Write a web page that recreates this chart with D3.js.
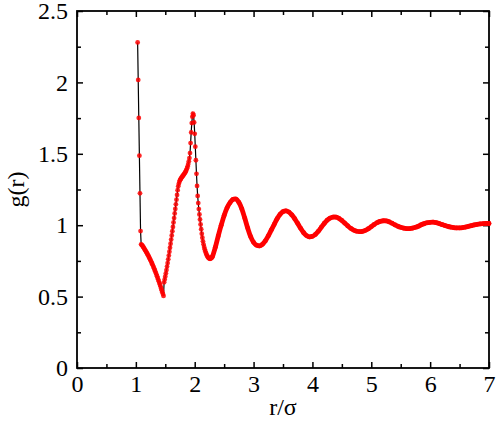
<!DOCTYPE html>
<html>
<head>
<meta charset="utf-8">
<script src="https://cdn.jsdelivr.net/npm/d3@7"></script>
<style>
  html, body { margin: 0; padding: 0; background: #fff; }
  text { font-family: "Liberation Serif", "DejaVu Serif", serif; }
</style>
</head>
<body>
<div id="chart"></div>
<script>
// tick labels
var xTicks = [0, 1, 2, 3, 4, 5, 6, 7];
var yTicks = [0, 0.5, 1, 1.5, 2, 2.5];
var xMinor = [0.5, 1.5, 2.5, 3.5, 4.5, 5.5, 6.5];
var yMinor = [0.25, 0.75, 1.25, 1.75, 2.25];

// g(r) close to contact, sampled every 0.01 from r = 1.03
var nearStart = 1.03, nearStep = 0.01;
var gNear = [
  2.280, 2.017, 1.751, 1.487, 1.223, 0.959, 0.866, 0.862, 0.857, 0.851,
  0.845, 0.838, 0.831, 0.824, 0.817, 0.810, 0.802, 0.795, 0.787, 0.779,
  0.771, 0.763, 0.754, 0.745, 0.736, 0.727, 0.717, 0.707, 0.697, 0.687,
  0.676, 0.665, 0.654, 0.643, 0.631, 0.619, 0.607, 0.595, 0.583, 0.570,
  0.557, 0.544, 0.531, 0.518, 0.505, 0.600, 0.620, 0.641, 0.663, 0.686,
  0.710, 0.735, 0.761, 0.787, 0.814, 0.842, 0.870, 0.899, 0.928, 0.958,
  0.988, 1.019, 1.050, 1.082, 1.114, 1.146, 1.179, 1.212, 1.245, 1.272,
  1.290, 1.305, 1.315, 1.322, 1.329, 1.335, 1.341, 1.347, 1.352, 1.358,
  1.364, 1.371, 1.379, 1.388, 1.399, 1.412, 1.428, 1.447, 1.470, 1.505,
  1.575, 1.650, 1.715, 1.760, 1.782, 1.770, 1.720, 1.640, 1.550, 1.455,
  1.360, 1.275, 1.205, 1.155, 1.113, 1.075, 1.040, 1.005, 0.972, 0.940,
  0.912, 0.887, 0.866, 0.848, 0.832, 0.818, 0.806, 0.795, 0.786, 0.779,
  0.773, 0.769, 0.766, 0.765, 0.766, 0.769, 0.774
];

// the smooth tail, every 0.05 from r = 2.30
var farStart = 2.30, farStep = 0.05;
var gFar = [
  0.780, 0.845, 0.925, 1.000, 1.068, 1.122, 1.158, 1.180, 1.183, 1.160,
  1.115, 1.050, 0.980, 0.920, 0.880, 0.860, 0.855, 0.866, 0.890, 0.925,
  0.965, 1.005, 1.045, 1.076, 1.095, 1.100, 1.092, 1.072, 1.045, 1.012,
  0.978, 0.948, 0.927, 0.918, 0.922, 0.935, 0.957, 0.985, 1.012, 1.035,
  1.050, 1.057, 1.056, 1.048, 1.033, 1.014, 0.995, 0.978, 0.966, 0.958,
  0.955, 0.957, 0.964, 0.975, 0.990, 1.005, 1.018, 1.027, 1.031, 1.030,
  1.024, 1.014, 1.003, 0.993, 0.985, 0.979, 0.976, 0.976, 0.979, 0.985,
  0.993, 1.003, 1.011, 1.017, 1.020, 1.021, 1.018, 1.012, 1.005, 0.998,
  0.992, 0.987, 0.983, 0.981, 0.981, 0.983, 0.987, 0.992, 0.997, 1.002,
  1.006, 1.009, 1.011, 1.012, 1.012
];

var near = gNear.map(function(g, i) { return {r: nearStart + i * nearStep, g: g}; });
var far = gFar.map(function(g, i) { return {r: farStart + i * farStep, g: g}; });
var all = near.concat(far);

var W = 498, H = 426;
var margin = {top: 11, right: 9, bottom: 58, left: 77};
var width = W - margin.left - margin.right,
    height = H - margin.top - margin.bottom;

var svg = d3.select("#chart").append("svg")
    .attr("width", W)
    .attr("height", H)
  .append("g")
    .attr("transform", "translate(" + margin.left + "," + margin.top + ")");

var x = d3.scaleLinear().domain([0, 7]).range([0, width]);
var y = d3.scaleLinear().domain([0, 2.5]).range([height, 0]);

function styleAxis(g) {
    g.select(".domain").remove();
    g.selectAll("line").attr("stroke", "#000").attr("stroke-width", 1.5);
    g.selectAll("text").attr("fill", "#000").style("font-size", "24px")
        .style("font-family", '"Liberation Serif", serif');
}

// major ticks, all pointing inward
svg.append("g").attr("transform", "translate(0," + height + ")")
    .call(d3.axisBottom(x).tickValues(xTicks).tickSizeInner(-6).tickSizeOuter(0)
        .tickPadding(7).tickFormat(function(d) { return String(d); }))
    .call(styleAxis);
svg.append("g")
    .call(d3.axisLeft(y).tickValues(yTicks).tickSizeInner(-6).tickSizeOuter(0)
        .tickPadding(9).tickFormat(function(d) { return String(d); }))
    .call(styleAxis);
svg.append("g")
    .call(d3.axisTop(x).tickValues(xTicks).tickSizeInner(-6).tickSizeOuter(0).tickFormat(""))
    .call(styleAxis);
svg.append("g").attr("transform", "translate(" + width + ",0)")
    .call(d3.axisRight(y).tickValues(yTicks).tickSizeInner(-6).tickSizeOuter(0).tickFormat(""))
    .call(styleAxis);

// minor ticks
svg.append("g").attr("transform", "translate(0," + height + ")")
    .call(d3.axisBottom(x).tickValues(xMinor).tickSizeInner(-4).tickSizeOuter(0).tickFormat(""))
    .call(styleAxis);
svg.append("g")
    .call(d3.axisTop(x).tickValues(xMinor).tickSizeInner(-4).tickSizeOuter(0).tickFormat(""))
    .call(styleAxis);
svg.append("g")
    .call(d3.axisLeft(y).tickValues(yMinor).tickSizeInner(-4).tickSizeOuter(0).tickFormat(""))
    .call(styleAxis);
svg.append("g").attr("transform", "translate(" + width + ",0)")
    .call(d3.axisRight(y).tickValues(yMinor).tickSizeInner(-4).tickSizeOuter(0).tickFormat(""))
    .call(styleAxis);

// frame
svg.append("rect")
    .attr("width", width).attr("height", height)
    .attr("fill", "none").attr("stroke", "#000").attr("stroke-width", 1.8);

// thin black line through every point
var line = d3.line().x(function(d) { return x(d.r); }).y(function(d) { return y(d.g); });
svg.append("path").datum(all)
    .attr("d", line)
    .attr("fill", "none").attr("stroke", "#000").attr("stroke-width", 1.2);

// the dense tail shows as one thick red band
var band = d3.line().curve(d3.curveCatmullRom)
    .x(function(d) { return x(d.r); }).y(function(d) { return y(d.g); });
svg.append("path").datum([near[near.length - 1]].concat(far))
    .attr("d", band)
    .attr("fill", "none").attr("stroke", "#ff0000").attr("stroke-width", 4.8)
    .attr("stroke-linecap", "round").attr("stroke-linejoin", "round");

// red markers
svg.append("g").selectAll("circle")
    .data(all)
  .enter().append("circle")
    .attr("cx", function(d) { return x(d.r); })
    .attr("cy", function(d) { return y(d.g); })
    .attr("r", 2.4)
    .attr("fill", "#ff0000")
    .attr("fill-opacity", 0.85);

// axis titles
svg.append("text")
    .attr("x", width / 2)
    .attr("y", height + 47)
    .attr("text-anchor", "middle")
    .style("font-size", "24px")
    .text("r/σ");

svg.append("text")
    .attr("transform", "translate(" + (-53) + "," + (height / 2) + ") rotate(-90)")
    .attr("text-anchor", "middle")
    .style("font-size", "24px")
    .text("g(r)");
</script>
</body>
</html>
